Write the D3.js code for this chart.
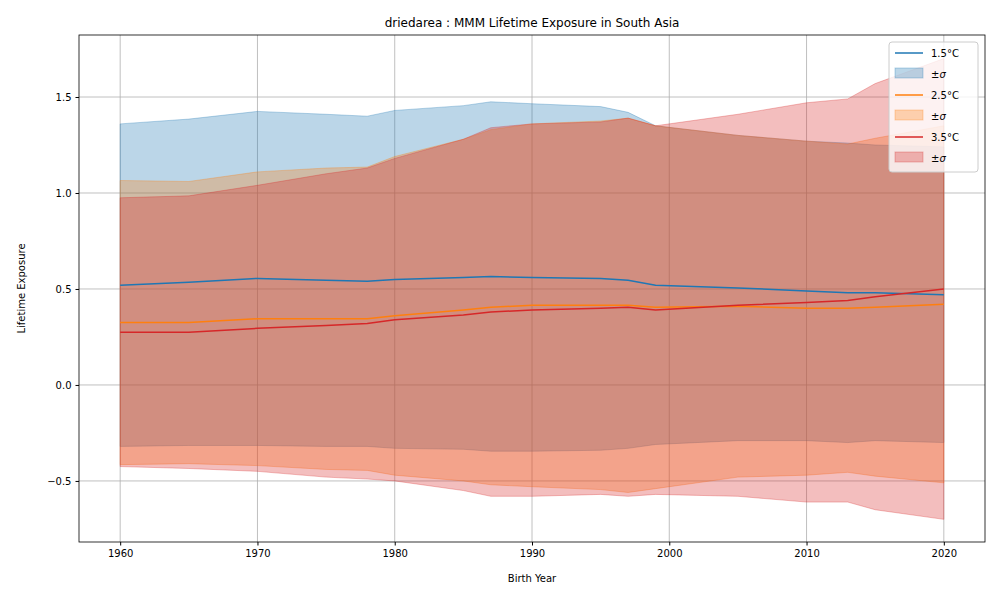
<!DOCTYPE html>
<html><head><meta charset="utf-8">
<script src="https://cdn.jsdelivr.net/npm/d3@7"></script>
<style>body{margin:0;background:#fff}text{font-family:"DejaVu Sans",sans-serif}</style>
</head><body><div id="chart"></div>
<script>
const years = [1960,1965,1970,1975,1978,1980,1985,1987,1990,1995,1997,1999,2005,2010,2013,2015,2020];
const mean15 = [0.52,0.535,0.555,0.545,0.54,0.55,0.56,0.565,0.56,0.555,0.545,0.52,0.505,0.49,0.48,0.48,0.47];
const std15  = [0.84,0.85,0.87,0.865,0.86,0.88,0.895,0.91,0.905,0.895,0.875,0.83,0.795,0.78,0.78,0.77,0.77];
const mean25 = [0.325,0.325,0.345,0.345,0.345,0.36,0.39,0.405,0.415,0.415,0.415,0.405,0.41,0.40,0.40,0.405,0.42];
const std25  = [0.74,0.735,0.765,0.785,0.79,0.83,0.89,0.925,0.945,0.96,0.975,0.945,0.89,0.87,0.855,0.88,0.93];
const mean35 = [0.275,0.275,0.295,0.31,0.32,0.34,0.365,0.38,0.39,0.40,0.405,0.39,0.415,0.43,0.44,0.46,0.50];
const std35  = [0.70,0.71,0.745,0.79,0.81,0.84,0.915,0.96,0.97,0.97,0.985,0.96,0.995,1.04,1.05,1.11,1.20];
const xTicks = [1960,1970,1980,1990,2000,2010,2020];
const yTicks = [-0.5,0.0,0.5,1.0,1.5];

const series = [
  {label:"1.5°C", mean:mean15, std:std15, color:"#1f77b4"},
  {label:"2.5°C", mean:mean25, std:std25, color:"#ff7f0e"},
  {label:"3.5°C", mean:mean35, std:std35, color:"#d62728"}
];

const W = 1000, H = 600, m = {top:35, right:15, bottom:58, left:79};
const svg = d3.select("#chart").append("svg").attr("width", W).attr("height", H);
const x = d3.scaleLinear().domain([1957, 2023]).range([m.left, W - m.right]);
const y = d3.scaleLinear().domain([-0.818, 1.823]).range([H - m.bottom, m.top]);

// grid
svg.append("g").selectAll("line").data(xTicks).join("line")
  .attr("x1", d => x(d)).attr("x2", d => x(d)).attr("y1", m.top).attr("y2", H - m.bottom)
  .attr("stroke", "#b0b0b0").attr("stroke-width", 0.8);
svg.append("g").selectAll("line").data(yTicks).join("line")
  .attr("y1", d => y(d)).attr("y2", d => y(d)).attr("x1", m.left).attr("x2", W - m.right)
  .attr("stroke", "#b0b0b0").attr("stroke-width", 0.8);

const area = s => d3.area().x((d, i) => x(years[i]))
  .y0((d, i) => y(s.mean[i] - s.std[i])).y1((d, i) => y(s.mean[i] + s.std[i]));
const line = s => d3.line().x((d, i) => x(years[i])).y(d => y(d));

series.forEach(s => {
  svg.append("path").attr("d", area(s)(years)).attr("fill", s.color).attr("fill-opacity", 0.3)
    .attr("stroke", s.color).attr("stroke-opacity", 0.3);
});
series.forEach(s => {
  svg.append("path").attr("d", line(s)(s.mean)).attr("fill", "none")
    .attr("stroke", s.color).attr("stroke-width", 1.5);
});

// axes
svg.append("rect").attr("x", m.left).attr("y", m.top).attr("width", W - m.left - m.right)
  .attr("height", H - m.top - m.bottom).attr("fill", "none").attr("stroke", "#000").attr("stroke-width", 0.8);
const xa = svg.append("g").attr("transform", `translate(0,${H - m.bottom})`)
  .call(d3.axisBottom(x).tickValues(xTicks).tickFormat(d3.format("d")).tickSize(3.5).tickPadding(4));
const ya = svg.append("g").attr("transform", `translate(${m.left},0)`)
  .call(d3.axisLeft(y).tickValues(yTicks).tickFormat(d => d3.format(".1f")(d).replace("-", "−")).tickSize(3.5).tickPadding(4));
[xa, ya].forEach(a => { a.select(".domain").remove(); a.selectAll("text").attr("font-size", 10).attr("fill", "#000"); });

svg.append("text").attr("x", (m.left + W - m.right) / 2).attr("y", 27).attr("text-anchor", "middle")
  .attr("font-size", 12).text("driedarea : MMM Lifetime Exposure in South Asia");
svg.append("text").attr("x", (m.left + W - m.right) / 2).attr("y", 582).attr("text-anchor", "middle")
  .attr("font-size", 10).text("Birth Year");
svg.append("text").attr("transform", `translate(25,${(m.top + H - m.bottom) / 2}) rotate(-90)`)
  .attr("text-anchor", "middle").attr("font-size", 10).text("Lifetime Exposure");

// legend
const lg = svg.append("g").attr("transform", "translate(889,42)");
lg.append("rect").attr("width", 89).attr("height", 130).attr("rx", 3).attr("fill", "#fff")
  .attr("fill-opacity", 0.8).attr("stroke", "#ccc");
series.forEach((s, i) => {
  const y0 = 11 + i * 42;
  lg.append("line").attr("x1", 6).attr("x2", 34).attr("y1", y0).attr("y2", y0).attr("stroke", s.color).attr("stroke-width", 1.5);
  lg.append("text").attr("x", 42).attr("y", y0 + 4).attr("font-size", 10).text(s.label);
  lg.append("rect").attr("x", 6).attr("y", y0 + 15).attr("width", 28).attr("height", 10)
    .attr("fill", s.color).attr("fill-opacity", 0.3).attr("stroke", s.color).attr("stroke-opacity", 0.3);
  const t = lg.append("text").attr("x", 42).attr("y", y0 + 25).attr("font-size", 10);
  t.append("tspan").text("±");
  t.append("tspan").attr("font-style", "italic").text("σ");
});
</script></body></html>
